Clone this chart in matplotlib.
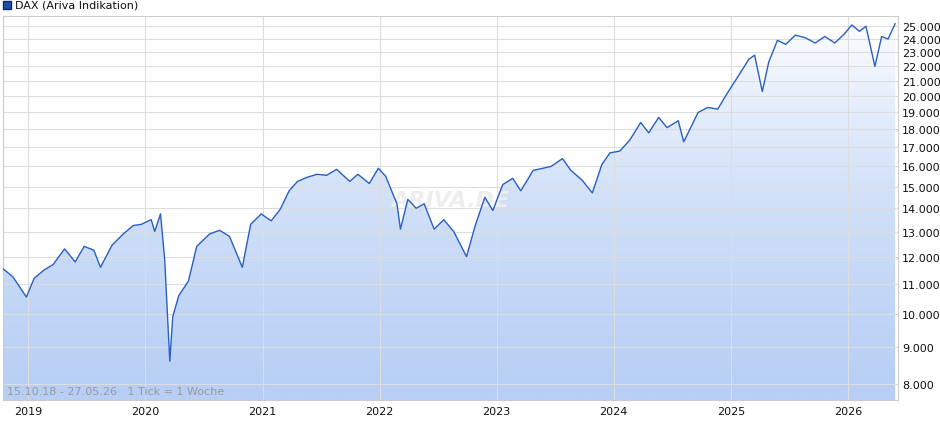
import numpy as np
import pandas as pd
import matplotlib
matplotlib.use("Agg")
import matplotlib.pyplot as plt
import matplotlib.dates as mdates
from matplotlib.ticker import FixedLocator, FuncFormatter, NullLocator

# approximate DAX levels
dates = ["2018-10-15", "2018-11-15", "2018-12-27", "2019-01-20", "2019-02-20", "2019-03-20",
         "2019-04-25", "2019-05-28", "2019-06-25", "2019-07-25", "2019-08-15", "2019-09-20",
         "2019-10-25", "2019-11-25", "2019-12-20", "2020-01-20", "2020-01-31", "2020-02-18",
         "2020-03-02", "2020-03-18", "2020-03-27", "2020-04-15", "2020-05-15", "2020-06-10",
         "2020-07-20", "2020-08-20", "2020-09-20", "2020-10-30", "2020-11-25", "2020-12-28",
         "2021-01-28", "2021-02-25", "2021-03-25", "2021-04-20", "2021-05-20", "2021-06-20",
         "2021-07-20", "2021-08-20", "2021-09-30", "2021-10-25", "2021-11-30", "2021-12-28",
         "2022-01-20", "2022-02-24", "2022-03-07", "2022-03-30", "2022-04-25", "2022-05-20",
         "2022-06-20", "2022-07-20", "2022-08-20", "2022-09-29", "2022-10-25", "2022-11-25",
         "2022-12-20", "2023-01-20", "2023-02-20", "2023-03-17", "2023-04-25", "2023-05-25",
         "2023-06-20", "2023-07-25", "2023-08-20", "2023-09-25", "2023-10-26", "2023-11-25",
         "2023-12-20", "2024-01-20", "2024-02-20", "2024-03-25", "2024-04-19", "2024-05-20",
         "2024-06-15", "2024-07-20", "2024-08-06", "2024-09-20", "2024-10-20", "2024-11-20",
         "2024-12-20", "2025-01-25", "2025-02-25", "2025-03-15", "2025-04-08", "2025-04-28",
         "2025-05-25", "2025-06-20", "2025-07-20", "2025-08-20", "2025-09-20", "2025-10-20",
         "2025-11-20", "2025-12-20", "2026-01-12", "2026-02-05", "2026-02-25", "2026-03-25",
         "2026-04-15", "2026-05-05", "2026-05-27"]
values = [11550, 11250, 10550, 11200, 11500, 11700, 12300, 11800, 12400, 12250, 11600, 12450,
          12900, 13250, 13300, 13500, 13000, 13750, 11900, 8600, 9900, 10600, 11100, 12400,
          12900, 13050, 12800, 11600, 13300, 13750, 13450, 13950, 14800, 15250, 15450, 15600,
          15550, 15850, 15250, 15600, 15150, 15900, 15500, 14200, 13100, 14400, 14000, 14200,
          13100, 13500, 13000, 12000, 13200, 14500, 13900, 15100, 15400, 14800, 15800, 15900,
          16000, 16400, 15800, 15300, 14700, 16100, 16700, 16800, 17400, 18400, 17800, 18700,
          18100, 18500, 17300, 19000, 19300, 19200, 20200, 21400, 22500, 22800, 20300, 22300,
          23900, 23600, 24300, 24100, 23700, 24200, 23700, 24400, 25100, 24600, 25000, 22000,
          24200, 24000, 25200]

ticks = [8000, 9000, 10000, 11000, 12000, 13000, 14000, 15000, 16000, 17000, 18000,
         19000, 20000, 21000, 22000, 23000, 24000, 25000]
years = list(range(2019, 2027))

x = mdates.date2num(pd.to_datetime(dates))
y = np.array(values, dtype=float)

fig = plt.figure(figsize=(9.4, 4.35), dpi=100)
ax = fig.add_axes([3 / 940, 34 / 435, 895 / 940, 384 / 435])
ax.set_yscale("log")
ymin, ymax = 7600, 25830
xmin = mdates.date2num(pd.Timestamp("2018-10-15"))
xmax = mdates.date2num(pd.Timestamp("2026-06-05"))
ax.set_xlim(xmin, xmax)
ax.set_ylim(ymin, ymax)

# gradient fill under the line
grad = np.linspace(0, 1, 256).reshape(-1, 1)
cmap = matplotlib.colors.LinearSegmentedColormap.from_list("g", ["#b7cff5", "#ffffff"])
img = ax.imshow(grad, aspect="auto", cmap=cmap, origin="lower",
                extent=[xmin, xmax, ymin, ymax], zorder=1)
poly = ax.fill_between(x, y, ymin, color="none")
clip = poly.get_paths()[0]
img.set_clip_path(clip, transform=ax.transData)

ax.plot(x, y, color="#2a5fc4", lw=1.0, zorder=3)

ax.yaxis.set_major_locator(FixedLocator(ticks))
ax.yaxis.set_minor_locator(NullLocator())
ax.yaxis.set_major_formatter(FuncFormatter(lambda v, p: f"{int(v):,}".replace(",", ".")))
ax.yaxis.tick_right()
ax.set_xticks([mdates.date2num(pd.Timestamp(f"{yr}-01-01")) for yr in years])
ax.set_xticklabels([str(yr) for yr in years])
ax.tick_params(length=0, labelsize=8, colors="#111111")
ax.tick_params(axis="y", pad=3)
ax.tick_params(axis="x", pad=4)
ax.grid(True, color="#dddddd", lw=0.8, zorder=0)
for s in ax.spines.values():
    s.set_color("#cccccc")

ax.text(0.5, 0.52, "ARIVA.DE", transform=ax.transAxes, ha="center", va="center",
        fontsize=16, color="#eeeeee", fontweight="bold", style="italic", zorder=2)
ax.text(0.005, 0.015, "15.10.18 - 27.05.26   1 Tick = 1 Woche", transform=ax.transAxes,
        fontsize=8, color="#9a9a9a", zorder=4)

fig.patches.append(matplotlib.patches.Rectangle((3 / 940, 425 / 435), 8 / 940, 8 / 435,
                   transform=fig.transFigure, facecolor="#1f4fa8", edgecolor="#0a2a70"))
fig.text(15 / 940, 429 / 435, "DAX (Ariva Indikation)", fontsize=8, va="center", color="#111111")

fig.savefig("out.png", dpi=100)
